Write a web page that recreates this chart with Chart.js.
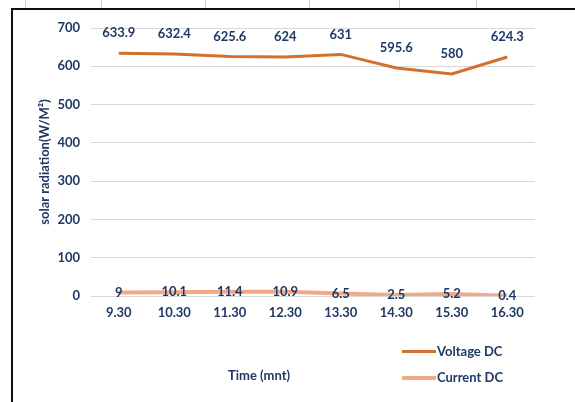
<!DOCTYPE html>
<html>
<head>
<meta charset="utf-8">
<script src="https://cdn.jsdelivr.net/npm/chart.js@4.4.1/dist/chart.umd.min.js"></script>
<style>
  html, body { margin: 0; padding: 0; background: #fff; }
  #wrap { position: relative; width: 575px; height: 402px; overflow: hidden; font-family: Lato, "Open Sans", sans-serif; }
  #frame { position: absolute; left: 11px; top: 8px; width: 700px; height: 500px; border-left: 2px solid #111; border-top: 2px solid #111; }
  .cell { position: absolute; top: 0; width: 1px; height: 8px; background: #d0d0d0; }
  #chart { position: absolute; left: 0; top: 0; }
  .txt { position: absolute; color: #1f3864; font-weight: bold; font-size: 13px; white-space: nowrap; }
  .key { position: absolute; height: 4px; width: 34px; }
</style>
</head>
<body>
<div id="wrap">
  <div class="cell" style="left:25px"></div>
  <div class="cell" style="left:101px"></div>
  <div class="cell" style="left:205px"></div>
  <div class="cell" style="left:309px"></div>
  <div class="cell" style="left:399px"></div>
  <div class="cell" style="left:476px"></div>
  <div id="frame"></div>
  <canvas id="chart" width="575" height="402"></canvas>
  <div class="txt" style="left:228px; top:367px;">Time (mnt)</div>
  <div class="key" style="left:402px; top:350px; background:#d5702c; height:3px;"></div>
  <div class="txt" style="left:437px; top:343px;">Voltage DC</div>
  <div class="key" style="left:402px; top:376px; background:#f2a987;"></div>
  <div class="txt" style="left:437px; top:369px;">Current DC</div>
</div>
<script>
// data
const times = ["9.30", "10.30", "11.30", "12.30", "13.30", "14.30", "15.30", "16.30"];
const voltageDC = [633.9, 632.4, 625.6, 624, 631, 595.6, 580, 624.3];
const currentDC = [9, 10.1, 11.4, 10.9, 6.5, 2.5, 5.2, 0.4];

const navy = '#1f3864';
const lblFont = 'bold 13px Lato, "Open Sans", sans-serif';
const axisFont = { family: 'Lato', size: 13, weight: 'bold' };

// value labels on the points (voltage above, current on the line)
const valueLabels = {
  id: 'valueLabels',
  afterDatasetsDraw(chart) {
    const ctx = chart.ctx;
    ctx.save();
    ctx.font = lblFont;
    ctx.fillStyle = navy;
    ctx.textAlign = 'center';
    ctx.textBaseline = 'middle';
    chart.data.datasets.forEach((ds, i) => {
      const meta = chart.getDatasetMeta(i);
      const dy = i === 0 ? -20 : 0;
      meta.data.forEach((pt, j) => {
        ctx.fillText(String(ds.data[j]), pt.x, pt.y + dy);
      });
    });
    ctx.restore();
  }
};

new Chart(document.getElementById('chart'), {
  type: 'line',
  data: {
    labels: times,
    datasets: [{
      label: 'Voltage DC',
      data: voltageDC,
      borderColor: '#d5702c',
      borderWidth: 3,
      pointRadius: 0,
      tension: 0
    }, {
      label: 'Current DC',
      data: currentDC,
      borderColor: '#f2a987',
      borderWidth: 4,
      pointRadius: 0,
      tension: 0
    }]
  },
  options: {
    responsive: false,
    animation: false,
    layout: { padding: { left: 30, right: 40, top: 28, bottom: 76 } },
    plugins: { legend: { display: false }, tooltip: { enabled: false } },
    scales: {
      x: {
        offset: true,
        grid: { display: false, drawTicks: false },
        border: { display: false },
        ticks: { color: navy, font: axisFont, padding: 9, maxRotation: 0 },
        afterFit(scale) { scale.height = 30; }
      },
      y: {
        min: 0,
        max: 700,
        ticks: { stepSize: 100, color: navy, font: axisFont, padding: 11 },
        grid: { color: '#d9d9d9', drawTicks: false },
        border: { display: false },
        title: {
          display: true,
          text: 'solar radiation(W/M²)',
          color: navy,
          font: axisFont,
          padding: { top: 7, bottom: 0 }
        },
        afterFit(scale) { scale.width = 61; }
      }
    }
  },
  plugins: [valueLabels]
});
</script>
</body>
</html>
